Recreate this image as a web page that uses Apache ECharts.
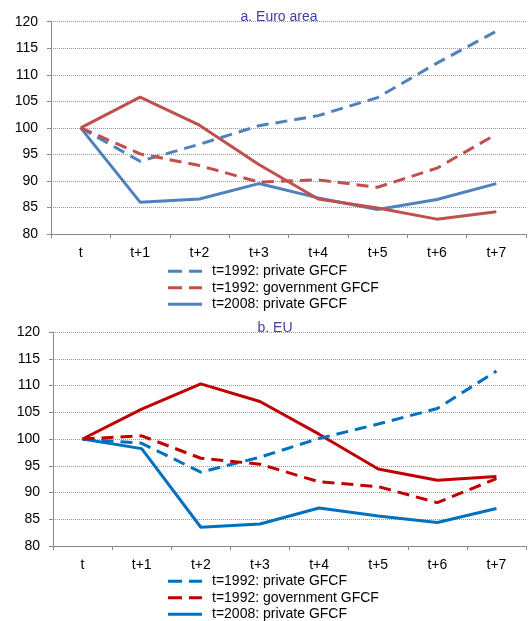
<!DOCTYPE html>
<html><head><meta charset="utf-8">
<script src="https://cdn.jsdelivr.net/npm/echarts@6/dist/echarts.min.js"></script>
<style>html,body{margin:0;padding:0;background:#fff}#c{width:529px;height:621px}</style>
</head><body><div id="c"></div>
<script>
const categories = ['t','t+1','t+2','t+3','t+4','t+5','t+6','t+7'];
const seriesNames = ['t=1992: private GFCF','t=1992: government GFCF','t=2008: private GFCF','t=2008: government GFCF'];
const panelTitles = ['a. Euro area','b. EU'];
// a. Euro area
const ea_private1992 = [100, 93.7, 96.9, 100.4, 102.3, 105.7, 112.2, 118.2];
const ea_gov1992     = [100, 95.1, 92.9, 89.8, 90.2, 88.8, 92.4, 98.8];
const ea_private2008 = [100, 86.0, 86.6, 89.5, 86.8, 84.6, 86.5, 89.5];
const ea_gov2008     = [100, 105.8, 100.5, 93.1, 86.6, 84.9, 82.8, 84.2];
// b. EU
const eu_private1992 = [100, 99.2, 93.8, 96.6, 100.1, 102.8, 105.7, 112.7];
const eu_gov1992     = [100, 100.6, 96.4, 95.3, 92.0, 91.1, 88.1, 92.6];
const eu_private2008 = [100, 98.2, 83.5, 84.1, 87.1, 85.6, 84.4, 87.0];
const eu_gov2008     = [100, 105.6, 110.3, 107.0, 100.9, 94.4, 92.3, 93.0];
const yTicks = [80, 85, 90, 95, 100, 105, 110, 115, 120];

const font = 'Liberation Sans';
const colorsA = {blue:'#4F81BD', red:'#C0504D'};
const colorsB = {blue:'#0070C0', red:'#C00000'};
const dashIcon = 'path://M0,0h14v3h-14z M21,0h13v3h-13z';
const solidIcon = 'path://M0,0h34v3h-34z';

function mkSeries(data, name, color, dashed, idx){
  return {
    type:'line', name:name, data:data, xAxisIndex:idx, yAxisIndex:idx,
    symbol:'none', smooth:false, z: dashed?3:2,
    lineStyle:{color:color, width:3, type: dashed?[12,7]:'solid', cap:'butt'},
    itemStyle:{color:color}
  };
}
function xAx(idx){
  return {type:'category', gridIndex:idx, data:categories, boundaryGap:true,
    axisLine:{lineStyle:{color:'#888', width:1}},
    axisTick:{show:true, length:4, lineStyle:{color:'#888'}},
    axisLabel:{color:'#000', fontFamily:font, fontSize:14, margin:12}};
}
function yAx(idx){
  return {type:'value', gridIndex:idx, min:yTicks[0], max:yTicks[yTicks.length-1], interval:5,
    axisLine:{show:true, lineStyle:{color:'#888'}},
    axisTick:{show:true, length:4, lineStyle:{color:'#888'}},
    axisLabel:{color:'#000', fontFamily:font, fontSize:14, margin:13},
    splitLine:{show:true, lineStyle:{color:'#999', type:'dotted', width:1}}};
}
function mkLegend(top, colors){
  return {orient:'vertical', left:168, top:top, height:80, padding:0, itemWidth:34, itemHeight:3, itemGap:0,
    textStyle:{fontFamily:font, fontSize:14, color:'#000', lineHeight:16.5, padding:[0,0,0,5]},
    data:[
      {name:seriesNames[0], icon:dashIcon, itemStyle:{color:colors.blue}},
      {name:seriesNames[1], icon:dashIcon, itemStyle:{color:colors.red}},
      {name:seriesNames[2], icon:solidIcon, itemStyle:{color:colors.blue}}
    ]};
}

const chart = echarts.init(document.getElementById('c'), null, {renderer:'canvas'});
chart.setOption({
  animation:false,
  title:[
    {text:panelTitles[0], left:274, top:5, textAlign:'center', textStyle:{fontFamily:font, fontSize:14, fontWeight:'normal', color:'#3F3FA5'}},
    {text:panelTitles[1], left:270, top:316, textAlign:'center', textStyle:{fontFamily:font, fontSize:14, fontWeight:'normal', color:'#3F3FA5'}}
  ],
  legend:[mkLegend(263, colorsA), mkLegend(573, colorsB)],
  grid:[
    {left:51, right:3, top:21.7, height:212.3},
    {left:53, right:3, top:332, height:214}
  ],
  xAxis:[xAx(0), xAx(1)],
  yAxis:[yAx(0), yAx(1)],
  series:[
    mkSeries(ea_private1992, seriesNames[0], colorsA.blue, true, 0),
    mkSeries(ea_gov1992, seriesNames[1], colorsA.red, true, 0),
    mkSeries(ea_private2008, seriesNames[2], colorsA.blue, false, 0),
    mkSeries(ea_gov2008, seriesNames[3], colorsA.red, false, 0),
    mkSeries(eu_private1992, seriesNames[0], colorsB.blue, true, 1),
    mkSeries(eu_gov1992, seriesNames[1], colorsB.red, true, 1),
    mkSeries(eu_private2008, seriesNames[2], colorsB.blue, false, 1),
    mkSeries(eu_gov2008, seriesNames[3], colorsB.red, false, 1)
  ]
});
</script>
</body></html>
